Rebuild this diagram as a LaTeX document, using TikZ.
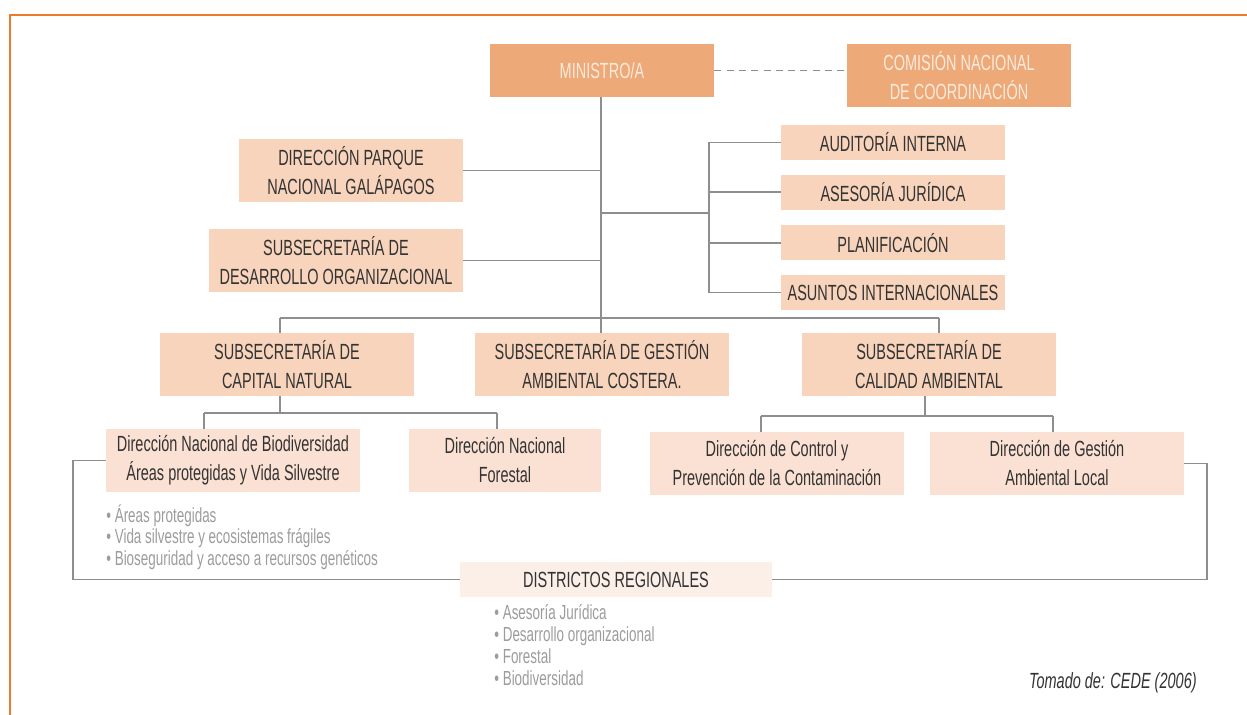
\documentclass[tikz,border=0pt]{standalone}
\usepackage{fontspec}
\setmainfont{Liberation Sans}[FakeStretch=0.66]
\usetikzlibrary{positioning}

\definecolor{marco}{HTML}{EC7A2F}
\definecolor{naranja}{HTML}{EDA978}
\definecolor{salmon}{HTML}{F7D4BB}
\definecolor{rosado}{HTML}{FAE1D3}
\definecolor{palido}{HTML}{FBEFE7}
\definecolor{tinta}{HTML}{333333}
\definecolor{crema}{HTML}{FCEBDD}
\definecolor{linea}{HTML}{8E8E8E}
\definecolor{nota}{HTML}{9C9C9C}

\tikzset{
    caja/.style={inner sep=0pt, align=center, text=tinta,
        font=\fontsize{12.5}{16.5}\selectfont},
    jefe/.style={caja, fill=naranja, text=crema, minimum width=4.48cm},
    subs/.style={caja, fill=salmon, minimum width=5.08cm, minimum height=1.26cm},
    apoyo/.style={caja, fill=salmon, minimum width=4.48cm, minimum height=0.7cm},
    direc/.style={caja, fill=rosado, minimum width=5.08cm, minimum height=1.26cm},
    link/.style={draw=linea, line width=0.8pt},
    lista/.style={inner sep=0pt, align=left, text=nota,
        font=\fontsize{11.6}{12.5}\selectfont},
}

\begin{document}
\begin{tikzpicture}[x=0.02cm, y=-0.02cm]
    \useasboundingbox (0,0) rectangle (1247,715);
    %% marco
    \draw[marco, line width=1.2pt] (9,15) -- (1247,15);
    \draw[marco, line width=1.2pt] (10,15) -- (10,715);

    %% nivel superior
    \node[jefe, minimum height=1.06cm] (ministro) at (602,70.5) {MINISTRO/A};
    \node[jefe, minimum height=1.26cm] (comision) at (959,75.5) {COMISIÓN NACIONAL\\DE COORDINACIÓN};
    \draw[link, dashed, dash pattern=on 4pt off 3pt] (ministro.east) -- (ministro.east -| comision.west);

    % asesores a la izquierda
    \node[subs, minimum width=4.48cm] (parque) at (351,170.5) {DIRECCIÓN PARQUE\\NACIONAL GALÁPAGOS};
    \node[subs] (desarrollo) at (336,260.5) {SUBSECRETARÍA DE\\DESARROLLO ORGANIZACIONAL};

    % asesores a la derecha
    \node[apoyo] (auditoria) at (893,142.5) {AUDITORÍA INTERNA};
    \node[apoyo, below=0.28cm of auditoria] (asesoria) {ASESORÍA JURÍDICA};
    \node[apoyo, below=0.3cm of asesoria] (planif) {PLANIFICACIÓN};
    \node[apoyo, below=0.28cm of planif] (asuntos) {ASUNTOS INTERNACIONALES};

    %% subsecretarías
    \node[subs] (capital) at (287,364.5) {SUBSECRETARÍA DE\\CAPITAL NATURAL};
    \node[subs] (gestion) at (602,364.5) {SUBSECRETARÍA DE GESTIÓN\\AMBIENTAL COSTERA.};
    \node[subs] (calidad) at (929,364.5) {SUBSECRETARÍA DE\\CALIDAD AMBIENTAL};

    %% direcciones
    \node[direc] (biodiv) at (233,460.5) {Dirección Nacional de Biodiversidad\\Áreas protegidas y Vida Silvestre};
    \node[direc, minimum width=3.84cm] (forestal) at (505,460.5) {Dirección Nacional\\Forestal};
    \node[direc] (control) at (777,463.5) {Dirección de Control y\\Prevención de la Contaminación};
    \node[direc] (local) at (1057,463.5) {Dirección de Gestión\\Ambiental Local};

    \node[lista, anchor=north west] (listabio) at (106,504)
        {• Áreas protegidas\\• Vida silvestre y ecosistemas frágiles\\• Bioseguridad y acceso a recursos genéticos};

    %% distritos
    \node[caja, fill=palido, minimum width=6.24cm, minimum height=0.7cm] (distritos) at (616,579.5) {DISTRICTOS REGIONALES};
    \node[lista, anchor=north west] (listadis) at (494,604)
        {• Asesoría Jurídica\\• Desarrollo organizacional\\• Forestal\\• Biodiversidad};

    \node[anchor=east, inner sep=0pt, text=tinta, font=\fontsize{12.5}{15}\selectfont\itshape] (fuente) at (1197,683) {Tomado de: CEDE (2006)};

    %% puntos de unión
    \coordinate (bus) at (601,318);
    \coordinate (busL) at (280,318);
    \coordinate (busR) at (939,318);
    \coordinate (jder) at (709,213);
    \coordinate (capL) at (204,413);
    \coordinate (capR) at (497,413);
    \coordinate (calM) at (925,416);
    \coordinate (calL) at (761,416);
    \coordinate (calR) at (1053,416);
    \coordinate (brL) at (73,580);
    \coordinate (brR) at (1207,580);

    % conectores
    \draw[link] (ministro.south -| bus) -- (bus);
    \draw[link] (parque.east) -- (parque.east -| bus);
    \draw[link] (desarrollo.east) -- (desarrollo.east -| bus);
    \draw[link] (jder -| bus) -- (jder);
    \draw[link] (jder |- auditoria.west) -- (jder |- asuntos.west);
    \foreach \n in {auditoria,asesoria,planif,asuntos}
        \draw[link] (jder |- \n.west) -- (\n.west);
    \draw[link] (busL) -- (busR);
    \draw[link] (busL) -- (busL |- capital.north);
    \draw[link] (bus) -- (bus |- gestion.north);
    \draw[link] (busR) -- (busR |- calidad.north);
    \draw[link] (busL |- capital.south) -- (busL |- capL);
    \draw[link] (capL) -- (capR);
    \draw[link] (capL) -- (capL |- biodiv.north);
    \draw[link] (capR) -- (capR |- forestal.north);
    \draw[link] (calM |- calidad.south) -- (calM);
    \draw[link] (calL) -- (calR);
    \draw[link] (calL) -- (calL |- control.north);
    \draw[link] (calR) -- (calR |- local.north);
    \draw[link] (biodiv.west) -- (biodiv.west -| brL) |- (distritos.west);
    \draw[link] (local.east) -- (local.east -| brR) |- (distritos.east);
\end{tikzpicture}
\end{document}
